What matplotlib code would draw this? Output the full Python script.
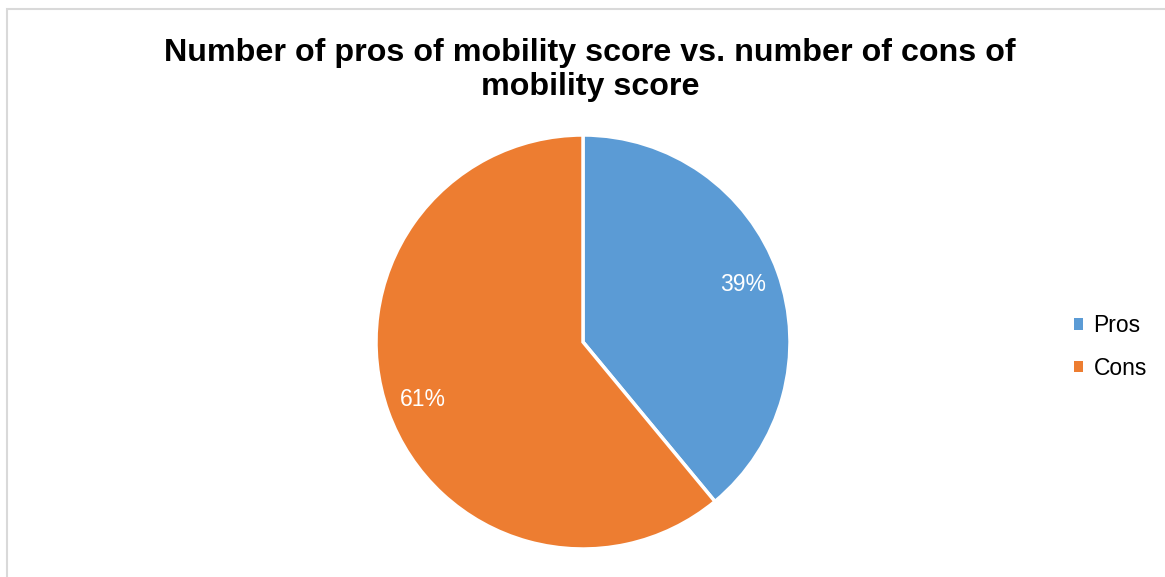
import matplotlib.pyplot as plt
from matplotlib.patches import Rectangle, Patch

labels = ['Pros', 'Cons']
values = [39, 61]
colors = ['#5b9bd5', '#ed7d31']

plt.rcParams['font.family'] = ['Liberation Sans', 'DejaVu Sans']

W, H = 1165, 577
fig = plt.figure(figsize=(W / 100, H / 100), dpi=100)

# light border of the chart area
fig.patches.append(Rectangle((7 / W, -0.05), 1.2, 1 - 9 / H + 0.05, transform=fig.transFigure,
                             fill=False, edgecolor='#d9d9d9', linewidth=1.5))

cx, cy, r = 583, 342, 207
ax = fig.add_axes([(cx - r) / W, (H - cy - r) / H, 2 * r / W, 2 * r / H])
wedges, texts, autotexts = ax.pie(values, colors=colors, startangle=90, counterclock=False,
                                  autopct='%1.0f%%', pctdistance=0.82, radius=1,
                                  wedgeprops=dict(edgecolor='white', linewidth=2.5),
                                  textprops=dict(color='white', fontsize=16.5))
ax.set_xlim(-1, 1)
ax.set_ylim(-1, 1)
ax.set_aspect('equal')
ax.axis('off')

fig.text(590 / W, 1 - 70 / H, 'Number of pros of mobility score vs. number of cons of\nmobility score',
         ha='center', va='center', fontsize=23.2, fontweight='bold', linespacing=1.2)

handles = [Patch(facecolor=c, edgecolor='none') for c in colors]
fig.legend(handles, labels, loc='center left', bbox_to_anchor=(1053 / W, 1 - 347 / H),
           frameon=False, fontsize=16.5, handlelength=0.42, handleheight=0.42,
           handletextpad=0.45, labelspacing=0.85)

fig.savefig('out.png', dpi=100)
